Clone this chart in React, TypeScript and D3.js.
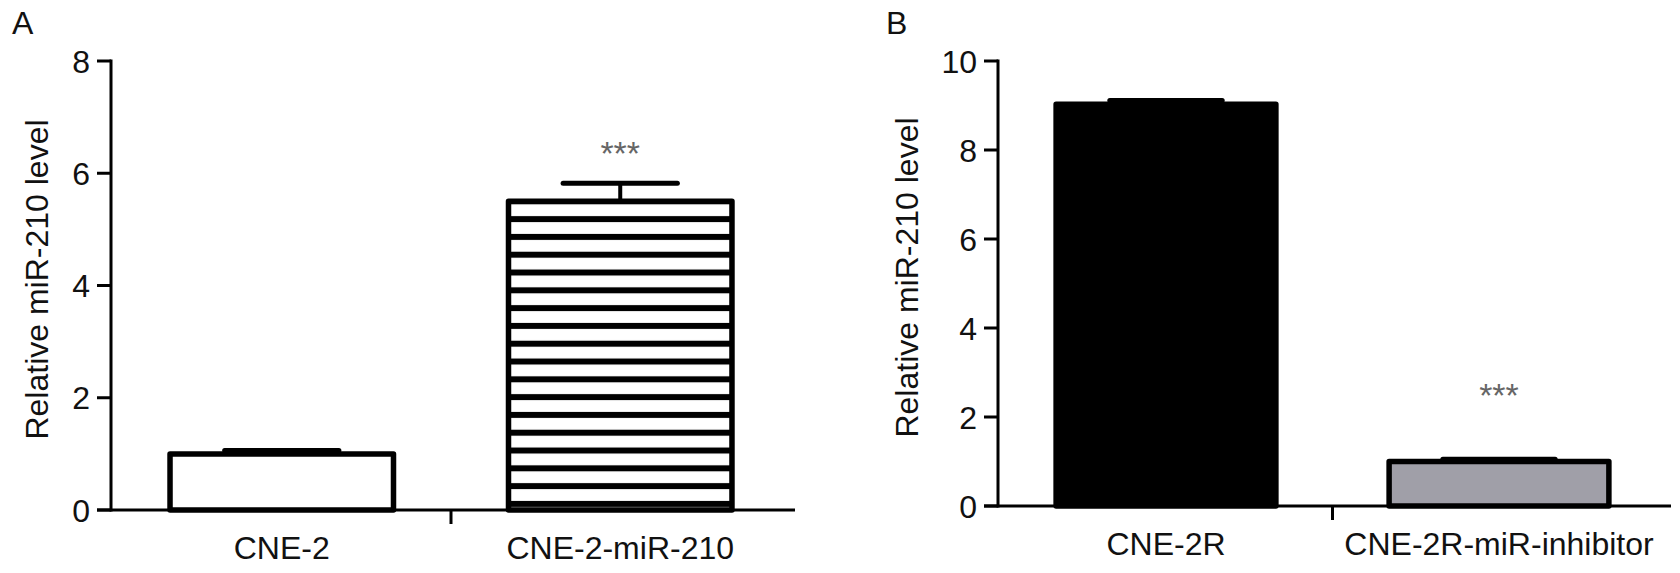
import React from 'react';
import * as d3 from 'd3';

const yTitle = 'Relative miR-210 level';

const categoriesA = ['CNE-2', 'CNE-2-miR-210'];
const meansA = [1.0, 5.5];
const errorsA = [0.06, 0.32];
const ticksA = [0, 2, 4, 6, 8];
const sigA = ['', '***'];
const sigPosA = [0, 6.15];

const categoriesB = ['CNE-2R', 'CNE-2R-miR-inhibitor'];
const meansB = [9.03, 1.0];
const errorsB = [0.08, 0.05];
const ticksB = [0, 2, 4, 6, 8, 10];
const sigB = ['', '***'];
const sigPosB = [0, 2.22];

const FONT = "Arial, 'Liberation Sans', Helvetica, sans-serif";

type PanelProps = {
  id: string;
  letter: string;
  letterX: number;
  cats: string[];
  means: number[];
  errs: number[];
  ticks: number[];
  sig: string[];
  sigPos: number[];
  left: number;
  right: number;
  bottom: number;
  top: number;
  titleX: number;
  fills: string[];
  strokes: string[];
};

function Panel(p: PanelProps) {
  const maxV = p.ticks[p.ticks.length - 1];
  const y = d3.scaleLinear().domain([0, maxV]).range([p.bottom, p.top]);
  const x = d3
    .scaleBand<string>()
    .domain(p.cats)
    .range([p.left, p.right])
    .paddingInner(0.325)
    .paddingOuter(0.167);
  const bw = x.bandwidth();
  const step = x.step();
  const tickLen = 14;
  const hatchStep = 17.8;
  const hatchHalf = 3;
  const hatchIdx = p.fills.findIndex((f) => f === 'hatch');
  return (
    <g>
      {hatchIdx >= 0 && (
        <defs>
          <pattern
            id={`hatch-${p.id}`}
            patternUnits="userSpaceOnUse"
            x={0}
            y={y(p.means[hatchIdx])}
            width={20}
            height={hatchStep}
          >
            <rect x={0} y={0} width={20} height={hatchStep} fill="#fff" />
            <rect x={0} y={0} width={20} height={hatchHalf} fill="#000" />
            <rect x={0} y={hatchStep - hatchHalf} width={20} height={hatchHalf} fill="#000" />
          </pattern>
        </defs>
      )}
      <text x={p.letterX} y={34} fontSize={32} fontFamily={FONT} fill="#111">
        {p.letter}
      </text>
      <text
        transform={`translate(${p.titleX},${(p.top + p.bottom) / 2 - 6}) rotate(-90)`}
        textAnchor="middle"
        fontSize={32}
        fontFamily={FONT}
        fill="#111"
      >
        {yTitle}
      </text>
      {/* bars */}
      {p.cats.map((c, i) => {
        const bx = x(c)!;
        const fill = p.fills[i] === 'hatch' ? `url(#hatch-${p.id})` : p.fills[i];
        return (
          <rect
            key={c}
            x={bx + 2.5}
            y={y(p.means[i])}
            width={bw - 5}
            height={y(0) - y(p.means[i])}
            fill={fill}
            stroke={p.strokes[i]}
            strokeWidth={5.5}
            strokeLinejoin="round"
          />
        );
      })}
      {/* error bars */}
      {p.cats.map((c, i) => {
        const cx = x(c)! + bw / 2;
        const yt = y(p.means[i] + p.errs[i]);
        return (
          <g key={`e-${c}`}>
            <line x1={cx} x2={cx} y1={y(p.means[i])} y2={yt} stroke="#000" strokeWidth={4} />
            <line
              x1={cx - bw / 4}
              x2={cx + bw / 4}
              y1={yt}
              y2={yt}
              stroke="#000"
              strokeWidth={5}
              strokeLinecap="round"
            />
          </g>
        );
      })}
      {/* significance */}
      {p.cats.map((c, i) =>
        p.sig[i] ? (
          <text
            key={`s-${c}`}
            x={x(c)! + bw / 2}
            y={y(p.sigPos[i])}
            textAnchor="middle"
            fontSize={34}
            fontFamily={FONT}
            fill="#666"
          >
            {p.sig[i]}
          </text>
        ) : null
      )}
      {/* y axis */}
      <line x1={p.left} x2={p.left} y1={y(0)} y2={y(maxV)} stroke="#000" strokeWidth={3} strokeLinecap="square" />
      {p.ticks.map((t) => (
        <g key={`t-${t}`}>
          <line x1={p.left - tickLen} x2={p.left} y1={y(t)} y2={y(t)} stroke="#000" strokeWidth={3} />
          <text
            x={p.left - tickLen - 7}
            y={y(t)}
            dy="0.36em"
            textAnchor="end"
            fontSize={32}
            fontFamily={FONT}
            fill="#111"
          >
            {t}
          </text>
        </g>
      ))}
      {/* x axis */}
      <line x1={p.left - tickLen} x2={p.right + 4} y1={y(0)} y2={y(0)} stroke="#000" strokeWidth={3} />
      {p.cats.slice(1).map((c) => {
        const tx = x(c)! - (step - bw) / 2;
        return <line key={`xt-${c}`} x1={tx} x2={tx} y1={y(0)} y2={y(0) + tickLen} stroke="#000" strokeWidth={3} />;
      })}
      {p.cats.map((c) => (
        <text
          key={`l-${c}`}
          x={x(c)! + bw / 2}
          y={y(0) + 49}
          textAnchor="middle"
          fontSize={32}
          fontFamily={FONT}
          fill="#111"
        >
          {c}
        </text>
      ))}
    </g>
  );
}

export default function App() {
  return (
    <svg
      width={1680}
      height={573}
      viewBox="0 0 1680 573"
      style={{ position: 'absolute', left: 0, top: 0, background: '#fff' }}
    >
      <rect x={0} y={0} width={1680} height={573} fill="#fff" />
      <Panel
        id="A"
        letter="A"
        letterX={12}
        cats={categoriesA}
        means={meansA}
        errs={errorsA}
        ticks={ticksA}
        sig={sigA}
        sigPos={sigPosA}
        left={111}
        right={791}
        bottom={510}
        top={61}
        titleX={48}
        fills={['#fff', 'hatch']}
        strokes={['#000', '#000']}
      />
      <Panel
        id="B"
        letter="B"
        letterX={886}
        cats={categoriesB}
        means={meansB}
        errs={errorsB}
        ticks={ticksB}
        sig={sigB}
        sigPos={sigPosB}
        left={998}
        right={1667}
        bottom={506}
        top={61}
        titleX={918}
        fills={['#000', '#a09fa8']}
        strokes={['#000', '#000']}
      />
    </svg>
  );
}
